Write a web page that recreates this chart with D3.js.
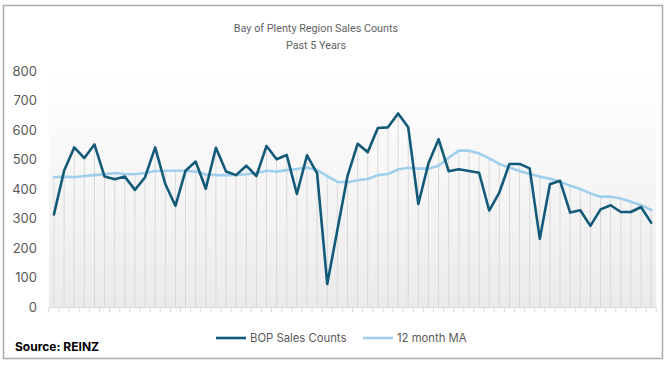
<!DOCTYPE html>
<html>
<head>
<meta charset="utf-8">
<script src="https://cdn.jsdelivr.net/npm/d3@7"></script>
<style>
  html, body { margin: 0; padding: 0; background: #ffffff; }
  svg { display: block; }
</style>
</head>
<body>
<svg id="chart" width="668" height="367"></svg>
<script>
// ---- Data ----
const months = [
  "Jan-18","Feb-18","Mar-18","Apr-18","May-18","Jun-18","Jul-18","Aug-18","Sep-18","Oct-18","Nov-18","Dec-18",
  "Jan-19","Feb-19","Mar-19","Apr-19","May-19","Jun-19","Jul-19","Aug-19","Sep-19","Oct-19","Nov-19","Dec-19",
  "Jan-20","Feb-20","Mar-20","Apr-20","May-20","Jun-20","Jul-20","Aug-20","Sep-20","Oct-20","Nov-20","Dec-20",
  "Jan-21","Feb-21","Mar-21","Apr-21","May-21","Jun-21","Jul-21","Aug-21","Sep-21","Oct-21","Nov-21","Dec-21",
  "Jan-22","Feb-22","Mar-22","Apr-22","May-22","Jun-22","Jul-22","Aug-22","Sep-22","Oct-22","Nov-22","Dec-22"
];
const salesCounts = [
  314, 462, 541, 505, 551, 442, 433, 442, 397, 440, 541, 417,
  343, 462, 493, 401, 540, 459, 447, 479, 444, 546, 501, 515,
  383, 514, 453, 78, 261, 444, 553, 525, 607, 609, 656, 609,
  349, 487, 569, 460, 467, 461, 455, 327, 388, 485, 485, 470,
  231, 416, 428, 320, 328, 275, 331, 345, 322, 322, 339, 286
];
const movingAvg = [
  440, 442, 440, 444, 447, 450, 454, 451, 450, 454, 461, 462,
  462, 462, 459, 449, 447, 447, 448, 450, 453, 462, 459, 464,
  468, 473, 464, 444, 424, 423, 430, 434, 447, 451, 466, 472,
  469, 469, 479, 506, 530, 530, 521, 504, 485, 473, 461, 451,
  442, 435, 425, 411, 400, 385, 374, 374, 368, 357, 345, 329
];
const yTicks = [0, 100, 200, 300, 400, 500, 600, 700, 800];
const seriesNames = ["BOP Sales Counts", "12 month MA"];
const chartTitle = "Bay of Plenty Region Sales Counts";
const chartSubtitle = "Past 5 Years";
const sourceText = "Source: REINZ";

// ---- Layout ----
const W = 668, H = 367;
const plot = { left: 48.9, right: 656.2, top: 71, bottom: 307 };
const darkColor = "#135a78";
const lightColor = "#9fcfec";
const textColor = "#595959";
const font = "Inter, 'Noto Sans', sans-serif";
const titleFont = "Roboto, 'Liberation Sans', sans-serif";

const svg = d3.select("#chart");

// frame
svg.append("rect")
  .attr("x", 3.5).attr("y", 5.5)
  .attr("width", 659).attr("height", 353)
  .attr("fill", "#ffffff")
  .attr("stroke", "#ababab").attr("stroke-width", 1.5);

// gradient background for plot area
const defs = svg.append("defs");
const grad = defs.append("linearGradient").attr("id", "bg")
  .attr("x1", 0).attr("y1", 0).attr("x2", 0).attr("y2", 1);
grad.append("stop").attr("offset", "0%").attr("stop-color", "#ffffff");
grad.append("stop").attr("offset", "100%").attr("stop-color", "#ebebeb");

const x = d3.scalePoint().domain(months).range([plot.left, plot.right]).padding(0.5);
const step = x.step();
const y = d3.scaleLinear().domain([0, 800]).range([plot.bottom, plot.top]);

svg.append("rect")
  .attr("x", plot.left).attr("y", plot.top)
  .attr("width", plot.right - plot.left).attr("height", plot.bottom - plot.top)
  .attr("fill", "url(#bg)");

// title
svg.append("text").attr("x", 316).attr("y", 32)
  .attr("text-anchor", "middle").attr("font-family", titleFont)
  .attr("font-size", 10.8).attr("fill", "#626262").text(chartTitle);
svg.append("text").attr("x", 316).attr("y", 49)
  .attr("text-anchor", "middle").attr("font-family", titleFont)
  .attr("font-size", 10.8).attr("fill", "#626262").text(chartSubtitle);

// y axis labels
const yAxis = d3.axisLeft(y).tickValues(yTicks).tickSize(0).tickPadding(0);
const yg = svg.append("g").attr("transform", `translate(37,0)`).call(yAxis);
yg.select(".domain").remove();
yg.selectAll("text").attr("font-family", font).attr("font-size", 13)
  .attr("fill", textColor);

// drop lines
svg.append("g").selectAll("line")
  .data(months)
  .join("line")
  .attr("x1", d => x(d)).attr("x2", d => x(d))
  .attr("y1", (d, i) => y(Math.max(salesCounts[i], movingAvg[i])))
  .attr("y2", plot.bottom)
  .attr("stroke", "#d9d9d9").attr("stroke-width", 1);

// x axis line with ticks between categories
const xg = svg.append("g");
xg.append("line")
  .attr("x1", plot.left).attr("x2", plot.right)
  .attr("y1", plot.bottom + 0.5).attr("y2", plot.bottom + 0.5)
  .attr("stroke", "#d9d9d9").attr("stroke-width", 1);
const boundaries = months.map(d => x(d) - step / 2).concat([x(months[months.length - 1]) + step / 2]);
xg.selectAll("line.tick")
  .data(boundaries)
  .join("line").attr("class", "tick")
  .attr("x1", d => d).attr("x2", d => d)
  .attr("y1", plot.bottom).attr("y2", plot.bottom + 5)
  .attr("stroke", "#d9d9d9").attr("stroke-width", 1);

// lines
const lineGen = arr => d3.line()
  .x((d, i) => x(months[i]))
  .y(d => y(d))(arr);

svg.append("path").attr("d", lineGen(movingAvg))
  .attr("fill", "none").attr("stroke", lightColor)
  .attr("stroke-width", 2.6).attr("stroke-linejoin", "round").attr("stroke-linecap", "round");
svg.append("path").attr("d", lineGen(salesCounts))
  .attr("fill", "none").attr("stroke", darkColor)
  .attr("stroke-width", 2.6).attr("stroke-linejoin", "round").attr("stroke-linecap", "round");

// legend
const legendItems = [
  { name: seriesNames[0], color: darkColor, x1: 216, x2: 246, tx: 250 },
  { name: seriesNames[1], color: lightColor, x1: 363, x2: 393, tx: 397 }
];
const lg = svg.append("g");
legendItems.forEach(it => {
  lg.append("line").attr("x1", it.x1).attr("x2", it.x2)
    .attr("y1", 338).attr("y2", 338)
    .attr("stroke", it.color).attr("stroke-width", 2.6);
  lg.append("text").attr("x", it.tx).attr("y", 342.3)
    .attr("font-family", font).attr("font-size", 11.3)
    .attr("fill", textColor).text(it.name);
});

// source
svg.append("text").attr("x", 15).attr("y", 351)
  .attr("font-family", font).attr("font-size", 12).attr("font-weight", "bold")
  .attr("fill", "#000000").text(sourceText);
</script>
</body>
</html>
